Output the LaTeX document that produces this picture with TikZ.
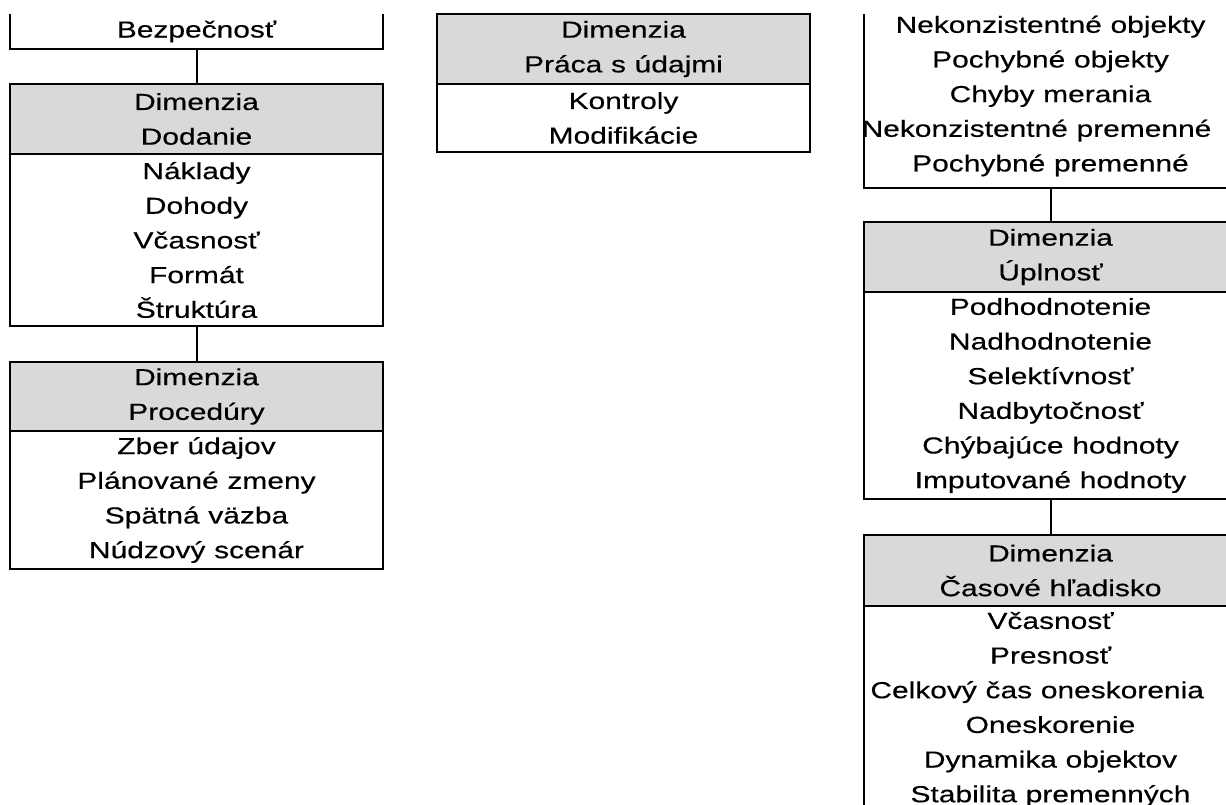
\documentclass[tikz,border=0pt]{standalone}
\usepackage{fontspec}
\setmainfont[FakeStretch=1.29,WordSpace=1.05,FakeBold=0.4]{Liberation Sans}
\definecolor{hdgray}{HTML}{D9D9D9}
\begin{document}
\begin{tikzpicture}[x=0.75pt,y=-0.75pt,
  txt/.style={inner sep=0pt, align=center, minimum width=279.75pt,
    font={\fontsize{17.4pt}{26pt}\selectfont}},
  cell/.style={txt, draw=black, line width=1.5pt},
  hd/.style={cell, fill=hdgray},
  bodycell/.style={cell, fill=white},
  open/.style={txt},
  link/.style={draw=black, line width=1.5pt}]
\useasboundingbox (0,0) rectangle (1226,805);
\clip (0,0) rectangle (1226,805);
% left column
\node[open, minimum height=26.25pt] (bez) at (196.5,31.5) {Bezpečnosť};
\draw[link] (bez.north west) -- (bez.south west) -- (bez.south east) -- (bez.north east);
\node[hd, minimum height=52.5pt] (dodH) at (196.5,119) {Dimenzia\\Dodanie};
\node[bodycell, minimum height=129pt] (dodB) at (196.5,240) {Náklady\\Dohody\\Včasnosť\\Formát\\Štruktúra};
\node[hd, minimum height=51.75pt] (proH) at (196.5,396.5) {Dimenzia\\Procedúry};
\node[bodycell, minimum height=103.5pt] (proB) at (196.5,500) {Zber údajov\\Plánované zmeny\\Spätná väzba\\Núdzový scenár};
\draw[link] (bez.south) -- (dodH.north);
\draw[link] (dodB.south) -- (proH.north);
% middle column
\node[hd, minimum height=52.5pt] (pracH) at (623.5,49) {Dimenzia\\Práca s údajmi};
\node[bodycell, minimum height=51pt] (pracB) at (623.5,118) {Kontroly\\Modifikácie};
% right column
\node[open, minimum height=138pt] (nek) at (1050.5,96) {Nekonzistentné objekty\\Pochybné objekty\\Chyby merania\\\hspace*{-21pt}Nekonzistentné premenné\\Pochybné premenné};
\draw[link] (nek.south west) ++(0,-174) -- (nek.south west) -- (nek.south east) -- ++(0,-174);
\node[hd, minimum height=52.5pt] (uplH) at (1050.5,257) {Dimenzia\\Úplnosť};
\node[bodycell, minimum height=155.25pt] (uplB) at (1050.5,395.5) {Podhodnotenie\\Nadhodnotenie\\Selektívnosť\\Nadbytočnosť\\Chýbajúce hodnoty\\Imputované hodnoty};
\node[hd, minimum height=53.25pt] (casH) at (1050.5,570.5) {Dimenzia\\Časové hľadisko};
\node[bodycell, minimum height=155.25pt] (casB) at (1050.5,709.5) {Včasnosť\\Presnosť\\\hspace*{-20pt}Celkový čas oneskorenia\\Oneskorenie\\Dynamika objektov\\Stabilita premenných};
\draw[link] (nek.south) -- (uplH.north);
\draw[link] (uplB.south) -- (casH.north);
\end{tikzpicture}
\end{document}
